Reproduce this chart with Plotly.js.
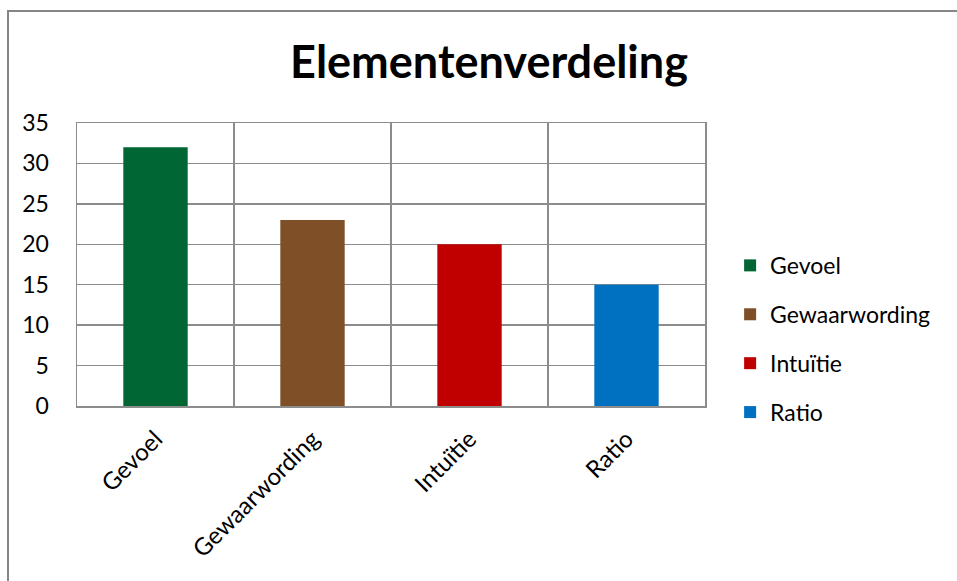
<!DOCTYPE html>
<html>
<head>
<meta charset="utf-8">
<script src="https://cdn.plot.ly/plotly-3.0.1.min.js"></script>
<style>
  html, body { margin: 0; padding: 0; background: #fff; }
  #wrap { position: relative; width: 957px; height: 581px; overflow: hidden; }
  #frame { position: absolute; left: 7px; top: 10px; width: 960px; height: 600px;
           border-left: 2px solid #868686; border-top: 2px solid #868686; box-sizing: border-box; pointer-events: none; }
  #chart { position: absolute; left: 0; top: 0; width: 957px; height: 581px; }
</style>
</head>
<body>
<div id="wrap">
  <div id="chart"></div>
  <div id="frame"></div>
</div>
<script>
const categories = ["Gevoel", "Gewaarwording", "Intuïtie", "Ratio"];
const values = [32, 23, 20, 15];
const colors = ["#006633", "#7F4F28", "#C00000", "#0070C0"];
const yTicks = [0, 5, 10, 15, 20, 25, 30, 35];

const FONT = "Lato, 'Open Sans', sans-serif";

const traces = categories.map((c, i) => ({
  type: "bar",
  name: c,
  x: [c],
  y: [values[i]],
  marker: { color: colors[i] },
  width: 0.41,
  legendgroup: "g" + i,
  hoverinfo: "x+y"
}));

const layout = {
  width: 957,
  height: 581,
  margin: { l: 77, r: 252, t: 123, b: 175, pad: 0 },
  paper_bgcolor: "#ffffff",
  plot_bgcolor: "#ffffff",
  barmode: "overlay",
  title: {
    text: "<b>Elementenverdeling</b>",
    font: { family: FONT, size: 45, color: "#000" },
    xref: "container", x: 0.511, xanchor: "center",
    yref: "container", y: 0.893, yanchor: "middle"
  },
  xaxis: {
    type: "category",
    categoryorder: "array",
    categoryarray: categories,
    tickson: "boundaries",
    showgrid: true,
    gridcolor: "#8c8c8c",
    gridwidth: 1.5,
    showline: true,
    linecolor: "#8c8c8c",
    linewidth: 1.5,
    mirror: true,
    ticks: "",
    tickangle: -45,
    ticklabelstandoff: 8,
    tickfont: { family: FONT, size: 24, color: "#000" },
    zeroline: false,
    fixedrange: true
  },
  yaxis: {
    range: [0, 35],
    tickvals: yTicks,
    ticktext: yTicks.map(String),
    showgrid: true,
    gridcolor: "#8c8c8c",
    gridwidth: 1.5,
    showline: true,
    linecolor: "#8c8c8c",
    linewidth: 1.5,
    mirror: true,
    ticks: "",
    ticklabelstandoff: 22,
    tickfont: { family: FONT, size: 23, color: "#000" },
    zeroline: false,
    fixedrange: true
  },
  showlegend: true,
  legend: {
    x: 0.04, xanchor: "left",
    y: 0.237, yanchor: "middle",
    font: { family: FONT, size: 23, color: "#000" },
    tracegroupgap: 16,
    itemwidth: 30,
    bgcolor: "rgba(0,0,0,0)"
  }
};
layout.legend.x = 1.04;

Plotly.newPlot("chart", traces, layout, { displayModeBar: false, staticPlot: true });
</script>
</body>
</html>
